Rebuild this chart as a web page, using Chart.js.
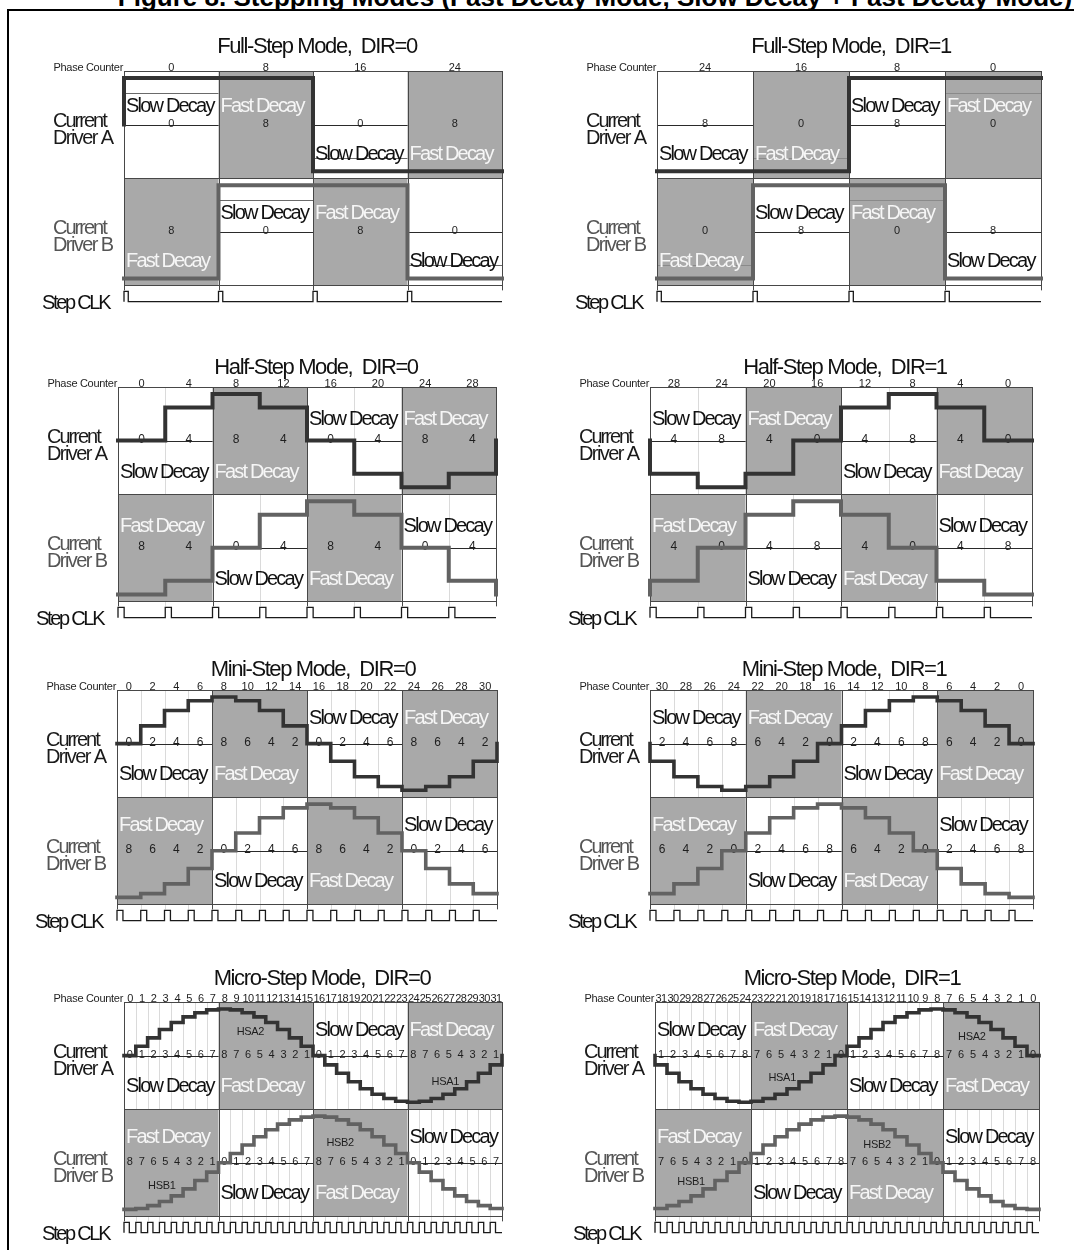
<!DOCTYPE html>
<html>
<head>
<meta charset="utf-8">
<title>Stepping Modes</title>
<script src="https://cdn.jsdelivr.net/npm/chart.js@4.4.1/dist/chart.umd.min.js"></script>
<style>
  html, body { margin: 0; padding: 0; background: #fff; }
  body { width: 1074px; height: 1250px; overflow: hidden; position: relative; font-family: "Liberation Sans", Arial, sans-serif; }
  #caption { position: absolute; left: 45px; width: 1100px; top: -16px; text-align: center; font-weight: bold; font-size: 26px; line-height: 26px; white-space: nowrap; }
  #frame { position: absolute; left: 7px; top: 9px; width: 1200px; height: 1400px; border-top: 2px solid #000; border-left: 2px solid #000; }
  canvas { position: absolute; }
</style>
</head>
<body>
<div id="caption">Figure 8. Stepping Modes (Fast Decay Mode, Slow Decay + Fast Decay Mode)</div>
<div id="frame"></div>
<script>
// Current levels: first entry = level before step 0, last entry = level after the final step.
// 100 = full coil current, -100 = full current in the other direction.
const UP = 'up', DN = 'down';

// ---- Full-step ----
const fullDir0Phase = [0, 8, 16, 24];
const fullDir0A = [0, 100, 100, -100, -100, -100];
const fullDir0B = [-100, -100, 100, 100, -100, -100];
const fullDir0NumA = [0, 8, 0, 8];
const fullDir0NumB = [8, 0, 8, 0];

const fullDir1Phase = [24, 16, 8, 0];
const fullDir1A = [-100, -100, -100, 100, 100, 100];
const fullDir1B = [-100, -100, 100, 100, -100, -100];
const fullDir1NumA = [8, 0, 8, 0];
const fullDir1NumB = [0, 8, 0, 8];

// ---- Half-step ----
const halfDir0Phase = [0, 4, 8, 12, 16, 20, 24, 28];
const halfDir0A = [0, 0, 71, 100, 71, 0, -71, -100, -71, 0];
const halfDir0B = [-100, -100, -71, 0, 71, 100, 71, 0, -71, -100];
const halfDir0NumA = [0, 4, 8, 4, 0, 4, 8, 4];
const halfDir0NumB = [8, 4, 0, 4, 8, 4, 0, 4];

const halfDir1Phase = [28, 24, 20, 16, 12, 8, 4, 0];
const halfDir1A = [0, -71, -100, -71, 0, 71, 100, 71, 0, 0];
const halfDir1B = [-100, -71, 0, 71, 100, 71, 0, -71, -100, -100];
const halfDir1NumA = [4, 8, 4, 0, 4, 8, 4, 0];
const halfDir1NumB = [4, 0, 4, 8, 4, 0, 4, 8];

// ---- Mini-step ----
const miniDir0Phase = [0, 2, 4, 6, 8, 10, 12, 14, 16, 18, 20, 22, 24, 26, 28, 30];
const miniDir0A = [0, 0, 38, 71, 92, 100, 92, 71, 38, 0, -38, -71, -92, -100, -92, -71, -38, 0];
const miniDir0B = [-100, -100, -92, -71, -38, 0, 38, 71, 92, 100, 92, 71, 38, 0, -38, -71, -92, -92];
const miniDir0NumA = [0, 2, 4, 6, 8, 6, 4, 2, 0, 2, 4, 6, 8, 6, 4, 2];
const miniDir0NumB = [8, 6, 4, 2, 0, 2, 4, 6, 8, 6, 4, 2, 0, 2, 4, 6];

const miniDir1Phase = [30, 28, 26, 24, 22, 20, 18, 16, 14, 12, 10, 8, 6, 4, 2, 0];
const miniDir1A = [0, -38, -71, -92, -100, -92, -71, -38, 0, 38, 71, 92, 100, 92, 71, 38, 0, 0];
const miniDir1B = [-92, -92, -71, -38, 0, 38, 71, 92, 100, 92, 71, 38, 0, -38, -71, -92, -100, -100];
const miniDir1NumA = [2, 4, 6, 8, 6, 4, 2, 0, 2, 4, 6, 8, 6, 4, 2, 0];
const miniDir1NumB = [6, 4, 2, 0, 2, 4, 6, 8, 6, 4, 2, 0, 2, 4, 6, 8];

// ---- Micro-step ----
const microDir0Phase = [0, 1, 2, 3, 4, 5, 6, 7, 8, 9, 10, 11, 12, 13, 14, 15, 16, 17, 18, 19, 20, 21, 22, 23, 24, 25, 26, 27, 28, 29, 30, 31];
const microDir0A = [0, 0, 20, 38, 56, 71, 83, 92, 98, 100, 98, 92, 83, 71, 56, 38, 20,
  0, -20, -38, -56, -71, -83, -92, -98, -100, -98, -92, -83, -71, -56, -38, -20, 0];
const microDir0B = [-100, -100, -98, -92, -83, -71, -56, -38, -20, 0, 20, 38, 56, 71, 83, 92, 98,
  100, 98, 92, 83, 71, 56, 38, 20, 0, -20, -38, -56, -71, -83, -92, -98, -98];
const microDir0NumA = [0, 1, 2, 3, 4, 5, 6, 7, 8, 7, 6, 5, 4, 3, 2, 1, 0, 1, 2, 3, 4, 5, 6, 7, 8, 7, 6, 5, 4, 3, 2, 1];
const microDir0NumB = [8, 7, 6, 5, 4, 3, 2, 1, 0, 1, 2, 3, 4, 5, 6, 7, 8, 7, 6, 5, 4, 3, 2, 1, 0, 1, 2, 3, 4, 5, 6, 7];
const microDir0Tags = [['HSA2', 'A', 10.7, 52], ['HSA1', 'A', 27.2, -54], ['HSB2', 'B', 18.3, 45], ['HSB1', 'B', 3.2, -47]];

const microDir1Phase = [31, 30, 29, 28, 27, 26, 25, 24, 23, 22, 21, 20, 19, 18, 17, 16, 15, 14, 13, 12, 11, 10, 9, 8, 7, 6, 5, 4, 3, 2, 1, 0];
const microDir1A = [0, -20, -38, -56, -71, -83, -92, -98, -100, -98, -92, -83, -71, -56, -38, -20, 0,
  20, 38, 56, 71, 83, 92, 98, 100, 98, 92, 83, 71, 56, 38, 20, 0, 0];
const microDir1B = [-98, -98, -92, -83, -71, -56, -38, -20, 0, 20, 38, 56, 71, 83, 92, 98, 100,
  98, 92, 83, 71, 56, 38, 20, 0, -20, -38, -56, -71, -83, -92, -98, -100, -100];
const microDir1NumA = [1, 2, 3, 4, 5, 6, 7, 8, 7, 6, 5, 4, 3, 2, 1, 0, 1, 2, 3, 4, 5, 6, 7, 8, 7, 6, 5, 4, 3, 2, 1, 0];
const microDir1NumB = [7, 6, 5, 4, 3, 2, 1, 0, 1, 2, 3, 4, 5, 6, 7, 8, 7, 6, 5, 4, 3, 2, 1, 0, 1, 2, 3, 4, 5, 6, 7, 8];
const microDir1Tags = [['HSA2', 'A', 26.4, 41], ['HSA1', 'A', 10.6, -47], ['HSB2', 'B', 18.5, 41], ['HSB1', 'B', 3.0, -39]];

// which half of each quadrant carries the decay label
const sidesFull0A = [UP, UP, DN, DN], sidesFull0B = [DN, UP, UP, DN];
const sidesFull1A = [DN, DN, UP, UP], sidesFull1B = [DN, UP, UP, DN];
const sidesDir0A = [DN, DN, UP, UP], sidesDir0B = [UP, DN, DN, UP];
const sidesDir1A = [UP, UP, DN, DN], sidesDir1B = [UP, DN, DN, UP];

// vertical layout in value units
const A_MID = 0, B_MID = -230, ROW_HALF = 115;
const CLK_LOW = -380, CLK_HIGH = -358;
const Y_MIN = -400, Y_MAX = 115;

const FONT = '"Liberation Sans", Arial, sans-serif';
const SHADE = '#a9a9a9';

const modeStyle = {
  full:  { clk: 0.045, titleDy: -18, upDy: -20, dnDy: 28, numFont: 11, lineW: 4 },
  half:  { clk: 0.13, titleDy: -13, upDy: -23, dnDy: 30, numFont: 12, lineW: 4 },
  mini:  { clk: 0.25, titleDy: -14, upDy: -27, dnDy: 29, numFont: 12, lineW: 3.6 },
  micro: { clk: 0.45, titleDy: -17, upDy: -27, dnDy: 29, numFont: 11, lineW: 3.6 }
};

const panels = [
  { mode: 'full', col: 0, top: 71, left: 124, right: 502, titleX: 317, title: 'Full-Step Mode,  DIR=0', boxLines: 'slow',
    phase: fullDir0Phase, a: fullDir0A, b: fullDir0B, numA: fullDir0NumA, numB: fullDir0NumB, sidesA: sidesFull0A, sidesB: sidesFull0B, tags: [] },
  { mode: 'full', col: 1, top: 71, left: 657, right: 1041, titleX: 851, title: 'Full-Step Mode,  DIR=1', boxLines: 'fast',
    phase: fullDir1Phase, a: fullDir1A, b: fullDir1B, numA: fullDir1NumA, numB: fullDir1NumB, sidesA: sidesFull1A, sidesB: sidesFull1B, tags: [] },
  { mode: 'half', col: 0, top: 387, left: 118, right: 496, titleX: 316, title: 'Half-Step Mode,  DIR=0',
    phase: halfDir0Phase, a: halfDir0A, b: halfDir0B, numA: halfDir0NumA, numB: halfDir0NumB, sidesA: sidesDir0A, sidesB: sidesDir0B, tags: [] },
  { mode: 'half', col: 1, top: 387, left: 650, right: 1032, titleX: 845, title: 'Half-Step Mode,  DIR=1',
    phase: halfDir1Phase, a: halfDir1A, b: halfDir1B, numA: halfDir1NumA, numB: halfDir1NumB, sidesA: sidesDir1A, sidesB: sidesDir1B, tags: [] },
  { mode: 'mini', col: 0, top: 690, left: 117, right: 497, titleX: 313, title: 'Mini-Step Mode,  DIR=0',
    phase: miniDir0Phase, a: miniDir0A, b: miniDir0B, numA: miniDir0NumA, numB: miniDir0NumB, sidesA: sidesDir0A, sidesB: sidesDir0B, tags: [] },
  { mode: 'mini', col: 1, top: 690, left: 650, right: 1033, titleX: 844, title: 'Mini-Step Mode,  DIR=1',
    phase: miniDir1Phase, a: miniDir1A, b: miniDir1B, numA: miniDir1NumA, numB: miniDir1NumB, sidesA: sidesDir1A, sidesB: sidesDir1B, tags: [] },
  { mode: 'micro', col: 0, top: 1002, left: 124, right: 502, titleX: 322, title: 'Micro-Step Mode,  DIR=0',
    phase: microDir0Phase, a: microDir0A, b: microDir0B, numA: microDir0NumA, numB: microDir0NumB, sidesA: sidesDir0A, sidesB: sidesDir0B, tags: microDir0Tags },
  { mode: 'micro', col: 1, top: 1002, left: 655, right: 1039, titleX: 852, title: 'Micro-Step Mode,  DIR=1',
    phase: microDir1Phase, a: microDir1A, b: microDir1B, numA: microDir1NumA, numB: microDir1NumB, sidesA: sidesDir1A, sidesB: sidesDir1B, tags: microDir1Tags }
];

function stepPoints(levels, n, offset) {
  const pts = [{ x: 0, y: levels[0] + offset }];
  for (let k = 0; k < n; k++) pts.push({ x: k, y: levels[k + 1] + offset });
  pts.push({ x: n, y: levels[n] + offset });
  pts.push({ x: n, y: levels[n + 1] + offset });
  return pts;
}

function clkPoints(n, w) {
  const pts = [{ x: 0, y: CLK_LOW }];
  for (let k = 0; k < n; k++) {
    pts.push({ x: k, y: CLK_HIGH });
    pts.push({ x: k + w, y: CLK_LOW });
  }
  pts.push({ x: n, y: CLK_LOW });
  return pts;
}

function text(ctx, str, x, y, size, color, align, spacing, weight) {
  ctx.font = (weight || '') + ' ' + size + 'px ' + FONT;
  ctx.fillStyle = color;
  ctx.textAlign = align || 'left';
  ctx.letterSpacing = (spacing || 0) + 'px';
  ctx.fillText(str, x, y);
  ctx.letterSpacing = '0px';
}

const crisp = v => Math.round(v) + 0.5;

const panelPlugin = {
  id: 'panel',
  beforeDatasetsDraw(chart, args, opts) {
    const p = opts.panel;
    if (!p) return;
    const st = modeStyle[p.mode];
    const { ctx, scales: { x, y } } = chart;
    const n = p.phase.length, q = n / 4;
    const rows = [
      { mid: A_MID, shaded: [1, 3], sides: p.sidesA, nums: p.numA },
      { mid: B_MID, shaded: [0, 2], sides: p.sidesB, nums: p.numB }
    ];
    const top = y.getPixelForValue(A_MID + ROW_HALF);
    const bottom = y.getPixelForValue(B_MID - ROW_HALF);
    ctx.save();
    ctx.textBaseline = 'alphabetic';

    // faint step grid
    ctx.strokeStyle = '#dadada';
    ctx.lineWidth = 1;
    for (let k = 1; k < n; k++) {
      if (k % q === 0) continue;
      const px = crisp(x.getPixelForValue(k));
      ctx.beginPath(); ctx.moveTo(px, top); ctx.lineTo(px, bottom + 5); ctx.stroke();
    }

    // zero lines
    ctx.strokeStyle = '#2a2a2a';
    rows.forEach(r => {
      const py = crisp(y.getPixelForValue(r.mid));
      ctx.beginPath(); ctx.moveTo(x.getPixelForValue(0), py); ctx.lineTo(x.getPixelForValue(n), py); ctx.stroke();
    });

    // fast decay quadrants
    ctx.fillStyle = SHADE;
    rows.forEach(r => {
      r.shaded.forEach(i => {
        const x0 = x.getPixelForValue(i * q), x1 = x.getPixelForValue((i + 1) * q);
        const y0 = y.getPixelForValue(r.mid + ROW_HALF), y1 = y.getPixelForValue(r.mid - ROW_HALF);
        ctx.fillRect(x0, y0, x1 - x0, y1 - y0);
      });
    });

    // edges of the label boxes (full-step figures only)
    if (p.boxLines) {
      rows.forEach(r => {
        const midPx = y.getPixelForValue(r.mid);
        for (let i = 0; i < 4; i++) {
          const fast = r.shaded.includes(i);
          if ((p.boxLines === 'fast') !== fast) continue;
          const py = crisp(midPx + (r.sides[i] === UP ? -32 : 33));
          ctx.strokeStyle = fast ? '#8a8a8a' : '#6a6a6a';
          ctx.beginPath(); ctx.moveTo(x.getPixelForValue(i * q), py); ctx.lineTo(x.getPixelForValue((i + 1) * q), py); ctx.stroke();
        }
      });
    }

    // quadrant boxes
    ctx.strokeStyle = '#474747';
    rows.forEach(r => {
      for (let i = 0; i < 4; i++) {
        const x0 = crisp(x.getPixelForValue(i * q)), x1 = crisp(x.getPixelForValue((i + 1) * q));
        const y0 = crisp(y.getPixelForValue(r.mid + ROW_HALF)), y1 = crisp(y.getPixelForValue(r.mid - ROW_HALF));
        ctx.strokeRect(x0, y0, x1 - x0, y1 - y0);
      }
    });
    for (let i = 0; i <= 4; i++) {
      const px = crisp(x.getPixelForValue(i * q));
      ctx.beginPath(); ctx.moveTo(px, bottom); ctx.lineTo(px, bottom + 5); ctx.stroke();
    }

    // decay labels
    rows.forEach(r => {
      const midPx = y.getPixelForValue(r.mid);
      for (let i = 0; i < 4; i++) {
        const fast = r.shaded.includes(i);
        const cy = midPx + (r.sides[i] === UP ? st.upDy : st.dnDy);
        text(ctx, fast ? 'Fast Decay' : 'Slow Decay', x.getPixelForValue(i * q) + 2, cy + 7,
          20, fast ? '#f6f6f6' : '#111', 'left', -1.8);
      }
    });

    // step numbers on the zero lines
    rows.forEach(r => {
      const py = y.getPixelForValue(r.mid) + 2;
      r.nums.forEach((v, k) => {
        text(ctx, String(v), x.getPixelForValue(k + 0.5), py, st.numFont, '#1e1e1e', 'center', 0);
      });
    });

    // HSA/HSB tags
    p.tags.forEach(t => {
      const base = t[1] === 'A' ? A_MID : B_MID;
      text(ctx, t[0], x.getPixelForValue(t[2]), y.getPixelForValue(base + t[3]) + 4, 11, '#1e1e1e', 'center', -0.3);
    });
    ctx.restore();
  },
  afterDraw(chart, args, opts) {
    const p = opts.panel;
    if (!p) return;
    const st = modeStyle[p.mode];
    const { ctx, scales: { x, y }, chartArea: ca } = chart;
    const cLeft = p.col === 0 ? 0 : 537;
    ctx.save();
    ctx.textBaseline = 'alphabetic';
    text(ctx, p.title, p.titleX - cLeft, ca.top + st.titleDy, 22, '#111', 'center', -1.4);
    text(ctx, 'Phase Counter', ca.left - 1, ca.top, 11, '#1e1e1e', 'right', -0.3);
    const pf = p.mode === 'micro' ? -0.6 : 0;
    p.phase.forEach((v, k) => {
      text(ctx, String(v), x.getPixelForValue(k + 0.5), ca.top, 11, '#1e1e1e', 'center', pf);
    });
    const aMid = y.getPixelForValue(A_MID), bMid = y.getPixelForValue(B_MID);
    text(ctx, 'Current', ca.left - 71, aMid + 2, 20, '#1a1a1a', 'left', -2);
    text(ctx, 'Driver A', ca.left - 71, aMid + 19, 20, '#1a1a1a', 'left', -1.6);
    text(ctx, 'Current', ca.left - 71, bMid + 2, 20, '#555', 'left', -2);
    text(ctx, 'Driver B', ca.left - 71, bMid + 19, 20, '#555', 'left', -1.6);
    text(ctx, 'Step CLK', ca.left - 82, y.getPixelForValue(CLK_LOW) + 7, 20, '#111', 'left', -2.3);
    ctx.restore();
  }
};

Chart.register(panelPlugin);

const CANVAS_W = 537, CANVAS_H = 302, PAD_TOP = 50, PAD_BOTTOM = 12;

panels.forEach(p => {
  const st = modeStyle[p.mode];
  const n = p.phase.length;
  const cLeft = p.col === 0 ? 0 : CANVAS_W;
  const cv = document.createElement('canvas');
  cv.width = CANVAS_W;
  cv.height = CANVAS_H;
  cv.style.left = cLeft + 'px';
  cv.style.top = (p.top - PAD_TOP) + 'px';
  cv.style.width = CANVAS_W + 'px';
  cv.style.height = CANVAS_H + 'px';
  document.body.appendChild(cv);

  const common = { stepped: true, pointRadius: 0, fill: false, clip: false, tension: 0,
    borderCapStyle: 'square', borderJoinStyle: 'miter' };

  new Chart(cv, {
    type: 'line',
    data: {
      datasets: [
        Object.assign({}, common, { label: 'Current Driver A', data: stepPoints(p.a, n, A_MID), borderColor: '#333333', borderWidth: st.lineW }),
        Object.assign({}, common, { label: 'Current Driver B', data: stepPoints(p.b, n, B_MID), borderColor: '#626262', borderWidth: st.lineW }),
        Object.assign({}, common, { label: 'Step CLK', data: clkPoints(n, st.clk), borderColor: '#1a1a1a', borderWidth: 1.3, borderCapStyle: 'butt' })
      ]
    },
    options: {
      responsive: false,
      animation: false,
      devicePixelRatio: 1,
      events: [],
      layout: { padding: { left: p.left - cLeft, right: cLeft + CANVAS_W - p.right, top: PAD_TOP, bottom: PAD_BOTTOM } },
      scales: {
        x: { type: 'linear', min: 0, max: n, display: false },
        y: { type: 'linear', min: Y_MIN, max: Y_MAX, display: false }
      },
      plugins: {
        legend: { display: false },
        tooltip: { enabled: false },
        panel: { panel: p }
      }
    }
  });
});
</script>
</body>
</html>
